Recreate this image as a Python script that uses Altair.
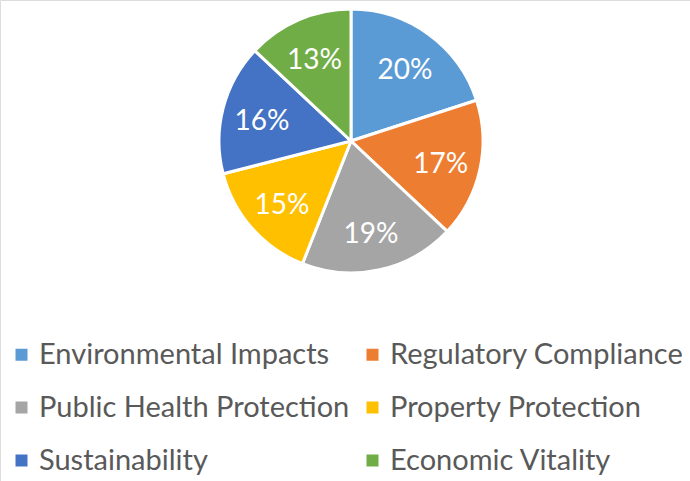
import altair as alt
import pandas as pd

categories = ["Environmental Impacts", "Regulatory Compliance", "Public Health Protection",
              "Property Protection", "Sustainability", "Economic Vitality"]
values = [20, 17, 19, 15, 16, 13]
labels = ["20%", "17%", "19%", "15%", "16%", "13%"]
colors = ["#5B9BD5", "#ED7D31", "#A5A5A5", "#FFC000", "#4472C4", "#70AD47"]

df = pd.DataFrame({
    "category": categories,
    "value": values,
    "label": labels,
    "order": list(range(len(categories))),
})

FONT = "Lato"
CX, CY, R = 351, 141, 132

arcs = alt.Chart(df).mark_arc(radius=R, stroke="white", strokeWidth=3).encode(
    theta=alt.Theta("value:Q", stack=True),
    order=alt.Order("order:Q"),
    x=alt.value(CX),
    y=alt.value(CY),
    color=alt.Color(
        "category:N",
        scale=alt.Scale(domain=categories, range=colors),
        legend=alt.Legend(
            orient="none", legendX=7, legendY=340, columns=2, direction="horizontal",
            title=None, padding=0,
            symbolType="square", symbolSize=144, symbolStrokeWidth=0,
            labelFont=FONT, labelFontSize=29, labelColor="#595959",
            labelLimit=500, labelOffset=3, rowPadding=23, columnPadding=8,
        ),
    ),
)

texts = alt.Chart(df).mark_text(radius=92, dy=4, font=FONT, fontSize=28, color="white").encode(
    theta=alt.Theta("value:Q", stack=True),
    order=alt.Order("order:Q"),
    detail="category:N",
    x=alt.value(CX),
    y=alt.value(CY),
    text="label:N",
)

chart = alt.layer(arcs, texts).properties(
    width=690, height=481, padding=0, autosize=alt.AutoSizeParams(type="none")
).configure_view(stroke=None).configure(background="white")

chart.save("out.html", embed_options={"renderer": "svg", "actions": False})
